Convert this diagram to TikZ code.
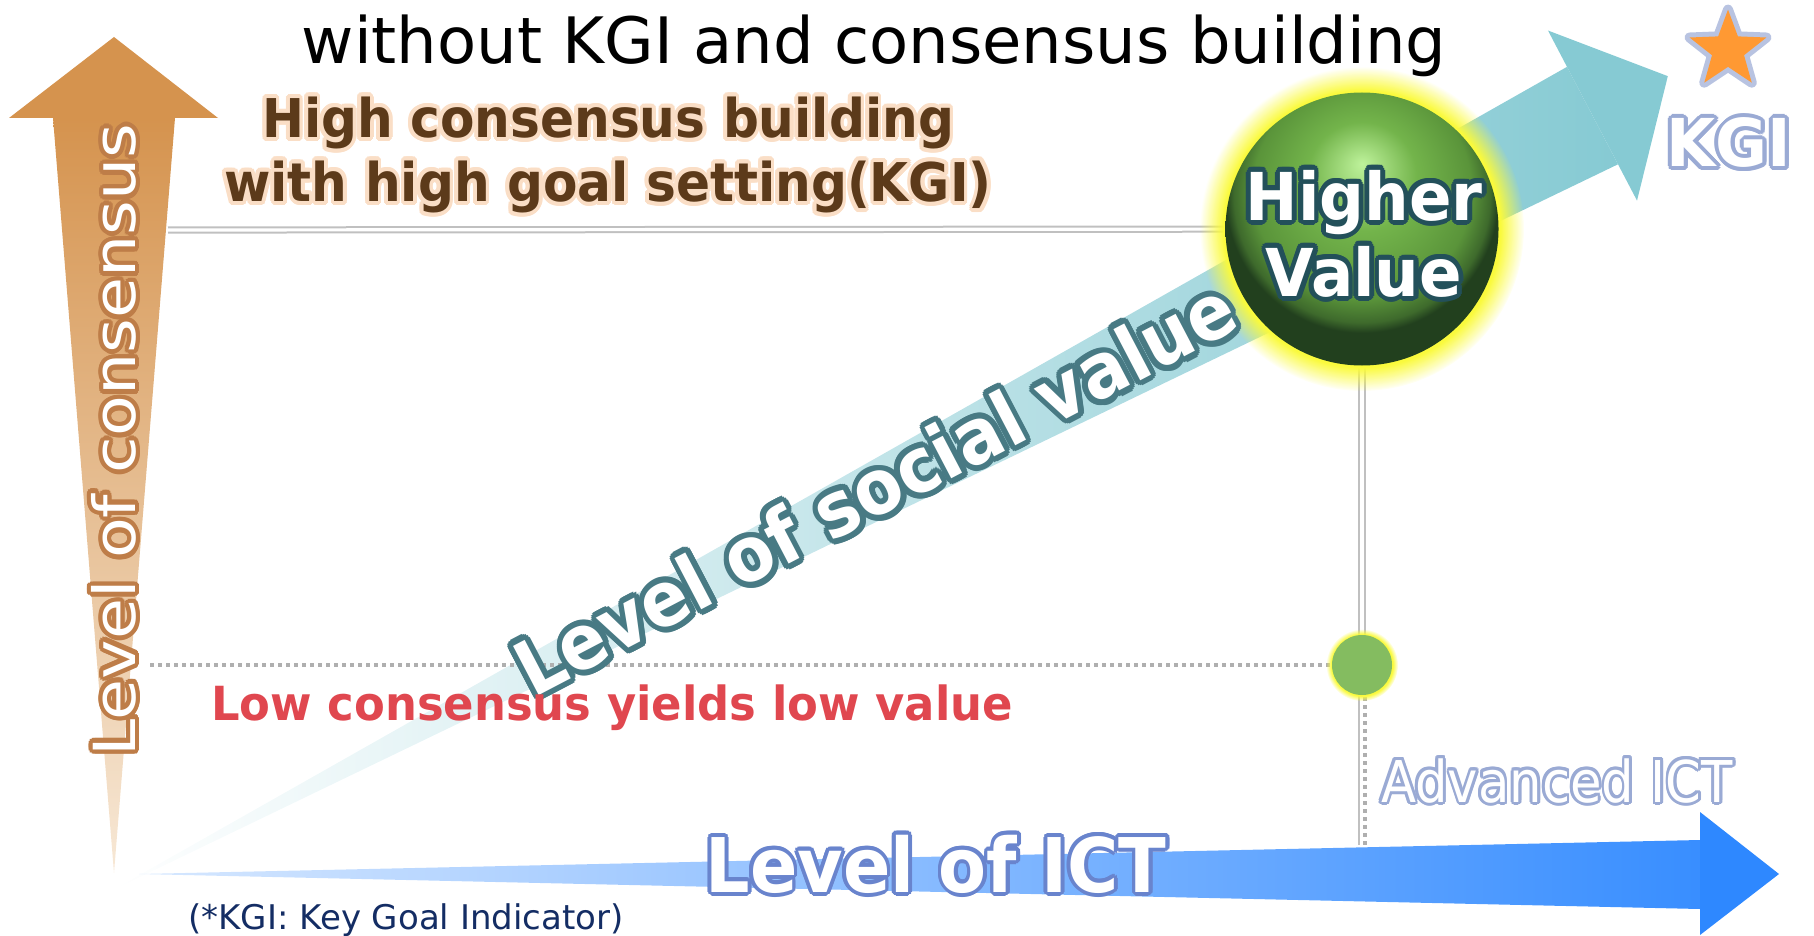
\documentclass[tikz,border=0pt]{standalone}
\usepackage{fontspec}
\setmainfont{DejaVu Sans}
\usepackage{graphicx}
\usepackage{contour}
\usetikzlibrary{shapes.geometric,fadings}

\definecolor{conorange}{RGB}{213,147,78}
\definecolor{conlight}{RGB}{247,232,214}
\definecolor{conglow}{RGB}{190,125,72}
\definecolor{highbrown}{RGB}{92,58,26}
\definecolor{highglow}{RGB}{250,222,198}
\definecolor{socteal}{RGB}{134,202,211}
\definecolor{socglow}{RGB}{72,122,132}
\definecolor{ictblue}{RGB}{46,136,255}
\definecolor{ictlight}{RGB}{215,232,255}
\definecolor{ictglow}{RGB}{105,132,205}
\definecolor{advglow}{RGB}{154,170,212}
\definecolor{lowred}{RGB}{224,71,79}
\definecolor{notenavy}{RGB}{20,45,100}
\definecolor{ballhi}{RGB}{190,242,155}
\definecolor{ballmid}{RGB}{115,180,75}
\definecolor{balllow}{RGB}{90,148,58}
\definecolor{balldark}{RGB}{34,64,30}
\definecolor{ballglow}{RGB}{35,80,90}
\definecolor{dotgreen}{RGB}{132,188,96}
\definecolor{glowyellow}{RGB}{250,250,60}
\definecolor{starorange}{RGB}{255,153,51}
\definecolor{linegray}{RGB}{192,192,192}
\definecolor{dotgray}{RGB}{175,175,175}

\pgfdeclareradialshading{greenball}{\pgfpoint{0bp}{12bp}}{color(0bp)=(ballhi); color(10bp)=(ballmid); color(20bp)=(balllow); color(23.5bp)=(balldark!50!balllow); color(25bp)=(balldark); color(50bp)=(balldark)}

\newcommand{\glowtext}[3][2pt]{\contourlength{#1}\contour{#2}{#3}}

\begin{document}
\begin{tikzpicture}[x=0.5pt, y=-0.5pt,
  guideline/.style={draw=linegray, line width=1pt},
  guidedouble/.style={draw=linegray, line width=1pt, double=white, double distance=1.6pt},
  dotline/.style={draw=dotgray, line width=2pt, dash pattern=on 2pt off 2pt},
  glowball/.style={fill=glowyellow, path fading=circle with fuzzy edge 15 percent}]

  \useasboundingbox (0,0) rectangle (1814,936);

  \coordinate (origin) at (139,874);
  \coordinate (ballc) at (1362,229);
  \coordinate (dotc) at (1362,665);
  \coordinate (hstart) at (168,230);
  \coordinate (dotstart) at (150,665);
  \coordinate (vbot) at (1362,845);

  \shade[top color=conorange, bottom color=conlight] (53,118) -- (175,118) -- (114,873) -- cycle;
  \fill[conorange] (114,37) -- (218,118) -- (9,118) -- cycle;

  \begin{scope}[shift={(113,890)}, rotate=27.63]
    \shade[left color=white, middle color=socteal!95, right color=socteal] (0,0) -- (1670,-55) -- (1670,55) -- cycle;
    \fill[socteal] (1670,-96) -- (1755,0) -- (1670,96) -- cycle;
  \end{scope}

  \shade[left color=ictlight, right color=ictblue!95!white] (origin) -- (1700,840) -- (1700,909) -- cycle;
  \fill[ictblue] (1700,812) -- (1779,874) -- (1700,935) -- cycle;

  \draw[guidedouble] (hstart) -- (ballc);
  \draw[guidedouble] (ballc) -- (dotc);
  \draw[guideline] ([xshift=-1.5pt]dotc) -- ([xshift=-1.5pt]vbot);
  \draw[dotline] ([xshift=1.5pt]dotc) -- ([xshift=1.5pt]vbot);
  \draw[dotline] (dotstart) -- (dotc);

  \fill[glowball] (ballc) circle (162);
  \node (bigball) [circle, minimum size=136.5pt, inner sep=0pt, shading=greenball] at (ballc) {};
  \fill[glowball, even odd rule] (dotc) circle (36) (dotc) circle (29);
  \node (smallball) [circle, minimum size=30pt, inner sep=0pt, fill=dotgreen] at (dotc) {};

  \node (title) [anchor=base, font=\fontsize{32}{38}\selectfont] at (874,64) {without KGI and consensus building};

  \node (high) [align=center, text=highbrown, font=\bfseries\fontsize{26.7}{32}\selectfont] at (608,157)
    {\scalebox{0.94}[1]{\glowtext{highglow}{High consensus building}}\\
     \scalebox{0.94}[1]{\glowtext{highglow}{with high goal setting(KGI)}}};

  \node (consensus) [rotate=90, text=white, font=\fontsize{29}{34}\selectfont] at (116,440)
    {\scalebox{1.15}[1]{\glowtext{conglow}{Level of consensus}}};

  \node (social) [rotate=27.63, text=white, font=\bfseries\fontsize{38}{44}\selectfont] at (876,490)
    {\scalebox{0.92}[1]{\glowtext[3pt]{socglow}{Level of social value}}};

  \node (value) [align=center, text=white, font=\bfseries\fontsize{33}{38}\selectfont] at (1364,236)
    {\scalebox{0.95}[1]{\glowtext[2.5pt]{ballglow}{Higher}}\\
     \scalebox{0.95}[1]{\glowtext[2.5pt]{ballglow}{Value}}};

  \node (star) [star, star points=5, star point ratio=2.4, minimum size=40.4pt, inner sep=0pt,
    fill=starorange, preaction={draw=advglow!70, line width=5pt, line join=round}] at (1728,50) {};
  \node (kgi) [anchor=base, text=white, font=\bfseries\fontsize{33}{40}\selectfont] at (1729,167)
    {\scalebox{0.96}[1]{\glowtext{advglow}{KGI}}};

  \node (low) [anchor=base, text=lowred, font=\bfseries\fontsize{23.5}{28}\selectfont] at (612,720)
    {\scalebox{0.955}[1]{Low consensus yields low value}};

  \node (advict) [anchor=base, text=white, font=\fontsize{28.8}{34}\selectfont] at (1557,802)
    {\scalebox{0.89}[1]{\glowtext[1.5pt]{advglow}{Advanced ICT}}};

  \node (ict) [anchor=base, text=white, font=\bfseries\fontsize{37.7}{44}\selectfont] at (936,892)
    {\scalebox{0.927}[1]{\glowtext{ictglow}{Level of ICT}}};

  \node (note) [anchor=base, text=notenavy, font=\fontsize{17}{20}\selectfont] at (406,929)
    {(*KGI: Key Goal Indicator)};
\end{tikzpicture}
\end{document}
